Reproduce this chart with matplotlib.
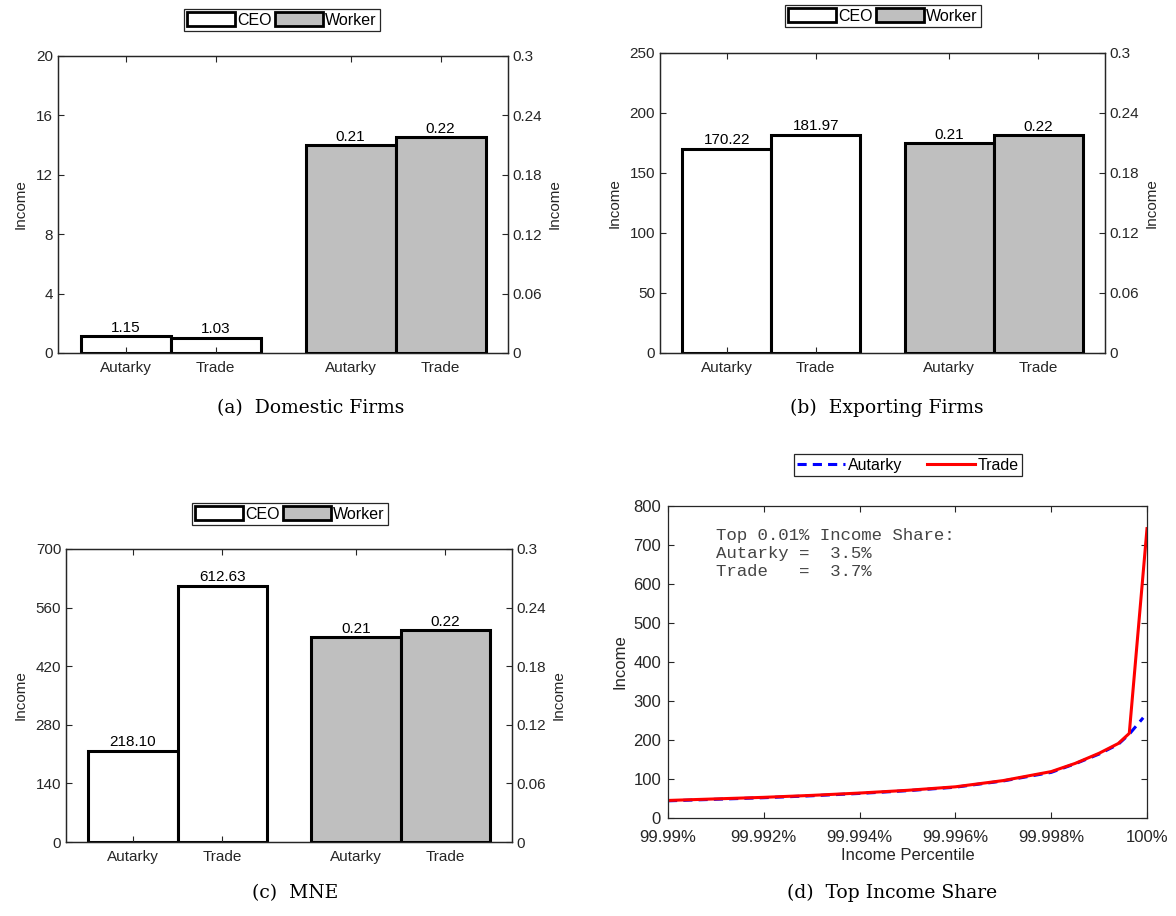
import numpy as np
import matplotlib
matplotlib.use('Agg')
from matplotlib import pyplot as plt
from matplotlib.patches import Patch
from matplotlib.ticker import FuncFormatter

## data ##
bar_labels = ['Autarky', 'Trade', 'Autarky', 'Trade']

ceo_domestic = [1.15, 1.03]
worker_domestic = [0.21, 0.218]

ceo_export = [170.22, 181.97]
worker_export = [0.21, 0.218]

ceo_mne = [218.10, 612.63]
worker_mne = [0.2096, 0.2168]

pct = [99.99, 99.991, 99.992, 99.993, 99.994, 99.995, 99.996, 99.997,
       99.998, 99.9985, 99.999, 99.9994, 99.99963]
income_autarky = [44, 48, 52, 57, 63, 70, 79, 95, 117, 139, 164, 189, 215]
income_trade = [45, 49, 53, 58, 64, 71, 80, 96, 119, 140, 166, 191, 217]
pct_autarky_top, autarky_top = 99.99992, 257
pct_trade_top, trade_top = 100.0, 742

share_text = "Top 0.01% Income Share:\nAutarky =  3.5%\nTrade   =  3.7%"

## style ##
W, H = 1176, 916
dark = '#262626'
gray_bar = '#bfbfbf'
plt.rcParams['font.family'] = ['Liberation Sans', 'DejaVu Sans']
plt.rcParams['axes.edgecolor'] = dark
plt.rcParams['axes.linewidth'] = 0.9
plt.rcParams['xtick.color'] = dark
plt.rcParams['ytick.color'] = dark

fig = plt.figure(figsize=(W / 100, H / 100), dpi=100)


def px_rect(l, t, r, b):
    return [l / W, 1 - b / H, (r - l) / W, (b - t) / H]


def bar_panel(rect, ceo, worker, ymax, ystep, legend_xy, caption, caption_xy):
    ax = fig.add_axes(px_rect(*rect))
    ax2 = ax.twinx()
    x_ceo = [1, 2]
    x_worker = [3.5, 4.5]
    b1 = ax.bar(x_ceo, ceo, width=1.0, color='white', edgecolor='black', linewidth=2.2)
    b2 = ax2.bar(x_worker, worker, width=1.0, color=gray_bar, edgecolor='black', linewidth=2.2)
    ax.bar_label(b1, fmt='%.2f', padding=1, fontsize=11)
    ax2.bar_label(b2, fmt='%.2f', padding=1, fontsize=11)
    ax.set_xlim(0.25, 5.25)
    ax.set_ylim(0, ymax)
    ax.set_yticks(np.arange(0, ymax + ystep / 2, ystep))
    ax2.set_ylim(0, 0.3)
    ax2.set_yticks([0, 0.06, 0.12, 0.18, 0.24, 0.3])
    ax2.yaxis.set_major_formatter(FuncFormatter(lambda v, p: '%g' % round(v, 2)))
    ax.set_xticks(x_ceo + x_worker)
    ax.set_xticklabels(bar_labels)
    ax.tick_params(axis='x', direction='in', top=True, labelsize=11, length=4, pad=6)
    ax.tick_params(axis='y', direction='in', labelsize=11, length=4)
    ax2.tick_params(axis='y', direction='in', labelsize=11, length=4)
    ax.set_ylabel('Income', fontsize=11, color=dark, labelpad=6)
    ax2.set_ylabel('Income', fontsize=11, color=dark)
    handles = [Patch(facecolor='white', edgecolor='black', linewidth=2),
               Patch(facecolor=gray_bar, edgecolor='black', linewidth=2)]
    leg = ax.legend(handles, ['CEO', 'Worker'], ncol=2, loc='center',
                    bbox_to_anchor=(legend_xy[0] / W, 1 - legend_xy[1] / H),
                    bbox_transform=fig.transFigure, fancybox=False,
                    edgecolor=dark, framealpha=1, fontsize=11.5,
                    handlelength=3.0, handleheight=0.9, handletextpad=0.15,
                    columnspacing=0.2, borderpad=0.2, borderaxespad=0)
    leg.get_frame().set_linewidth(0.9)
    fig.text(caption_xy[0] / W, 1 - caption_xy[1] / H, caption, ha='center', va='center',
             family='DejaVu Serif', fontsize=13.5)
    return ax


bar_panel((58, 56, 508, 353), ceo_domestic, worker_domestic, 20, 4,
          (282, 20), '(a)  Domestic Firms', (311, 408))
bar_panel((660, 53, 1105, 353), ceo_export, worker_export, 250, 50,
          (883, 16), '(b)  Exporting Firms', (887, 408))
bar_panel((66, 549, 512, 842), ceo_mne, worker_mne, 700, 140,
          (290, 514), '(c)  MNE', (295, 893))

## top income share panel ##
ax = fig.add_axes(px_rect(668, 506, 1147, 818))
ax.plot(pct + [pct_autarky_top], income_autarky + [autarky_top], color='blue',
        linestyle=(0, (3, 2)), linewidth=2.2, label='Autarky')
ax.plot(pct + [pct_trade_top], income_trade + [trade_top], color='red',
        linewidth=2.2, label='Trade')
ax.set_xlim(99.99, 100)
ax.set_ylim(0, 800)
ax.set_xticks([99.99, 99.992, 99.994, 99.996, 99.998, 100])
ax.xaxis.set_major_formatter(FuncFormatter(lambda v, p: '%g%%' % round(v, 4)))
ax.set_yticks(np.arange(0, 801, 100))
ax.tick_params(direction='in', top=True, right=True, labelsize=12, length=4)
ax.tick_params(axis='x', pad=9)
ax.tick_params(axis='y', pad=5)
ax.set_xlabel('Income Percentile', fontsize=12, color=dark, labelpad=2)
ax.set_ylabel('Income', fontsize=12, color=dark)
ax.text(0.1, 0.93, share_text, transform=ax.transAxes, va='top', ha='left',
        family='Liberation Mono', fontsize=12.5, color='#444444', linespacing=1.25)
leg = ax.legend(ncol=2, loc='center', bbox_to_anchor=(908 / W, 1 - 465 / H),
                bbox_transform=fig.transFigure, fancybox=False, edgecolor=dark,
                framealpha=1, fontsize=11.5, handlelength=3.0, handletextpad=0.15,
                columnspacing=1.6, borderpad=0.2, borderaxespad=0)
leg.get_frame().set_linewidth(0.9)
fig.text(892 / W, 1 - 893 / H, '(d)  Top Income Share', ha='center', va='center',
         family='DejaVu Serif', fontsize=13.5)

fig.savefig('out.png', dpi=100)
